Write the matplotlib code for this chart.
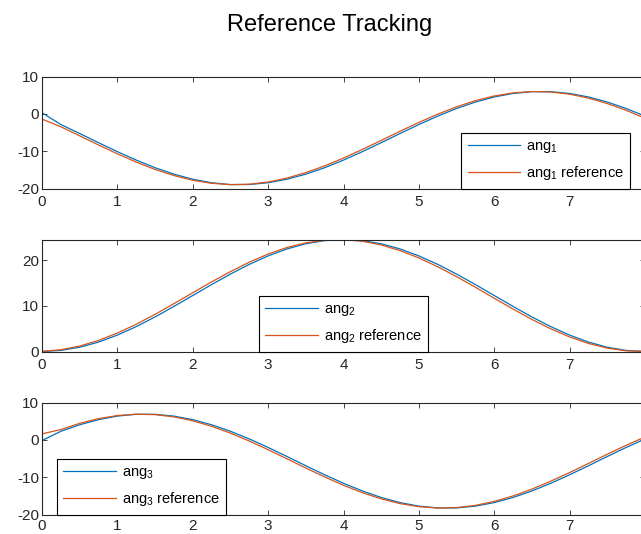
import matplotlib
matplotlib.use("Agg")
import matplotlib.pyplot as plt

plt.rcParams["font.family"] = ["Liberation Sans", "DejaVu Sans"]
plt.rcParams["mathtext.default"] = "regular"
plt.rcParams["axes.unicode_minus"] = False

t = [0.0, 0.25, 0.5, 0.75, 1.0, 1.25, 1.5, 1.75, 2.0, 2.25, 2.5, 2.75, 3.0,
     3.25, 3.5, 3.75, 4.0, 4.25, 4.5, 4.75, 5.0, 5.25, 5.5, 5.75, 6.0,
     6.25, 6.5, 6.75, 7.0, 7.25, 7.5, 7.75, 8.0]

ang1 = [0.3, -2.87, -5.27, -7.73, -10.13, -12.39, -14.43, -16.16, -17.52,
        -18.46, -18.94, -18.94, -18.46, -17.52, -16.16, -14.43, -12.39,
        -10.13, -7.73, -5.27, -2.87, -0.61, 1.43, 3.16, 4.52, 5.46, 5.94,
        5.94, 5.46, 4.52, 3.16, 1.43, -0.61]
ang1_ref = [-1.4, -3.47, -5.89, -8.34, -10.71, -12.92, -14.89, -16.53, -17.79,
            -18.61, -18.97, -18.85, -18.26, -17.21, -15.75, -13.94, -11.84,
            -9.54, -7.12, -4.67, -2.3, -0.09, 1.89, 3.53, 4.79, 5.61, 5.97,
            5.85, 5.26, 4.21, 2.75, 0.94, -1.17]

ang2 = [0.0, 0.24, 0.93, 2.06, 3.59, 5.44, 7.56, 9.86, 12.25, 14.64, 16.94,
        19.06, 20.91, 22.44, 23.57, 24.26, 24.5, 24.26, 23.57, 22.44, 20.91,
        19.06, 16.94, 14.64, 12.25, 9.86, 7.56, 5.44, 3.59, 2.06, 0.93, 0.24,
        0.0]
ang2_ref = [0.03, 0.39, 1.19, 2.42, 4.04, 5.96, 8.13, 10.46, 12.85, 15.23,
            17.48, 19.54, 21.32, 22.75, 23.77, 24.35, 24.47, 24.12, 23.31,
            22.08, 20.47, 18.54, 16.38, 14.05, 11.65, 9.28, 7.02, 4.96, 3.19,
            1.76, 0.73, 0.15, 0.03]

ang3 = [-0.2, 2.29, 4.04, 5.41, 6.36, 6.84, 6.84, 6.36, 5.41, 4.04, 2.29,
        0.24, -2.04, -4.46, -6.94, -9.36, -11.64, -13.69, -15.44, -16.81,
        -17.76, -18.24, -18.24, -17.76, -16.81, -15.44, -13.69, -11.64,
        -9.36, -6.94, -4.46, -2.04, 0.24]
ang3_ref = [1.6, 2.75, 4.41, 5.68, 6.51, 6.87, 6.75, 6.15, 5.1, 3.63, 1.8,
            -0.32, -2.64, -5.08, -7.55, -9.94, -12.17, -14.15, -15.81, -17.08,
            -17.91, -18.27, -18.15, -17.55, -16.5, -15.03, -13.2, -11.08,
            -8.76, -6.32, -3.85, -1.46, 0.77]

x_ticks = [0, 1, 2, 3, 4, 5, 6, 7]
y_ticks = [[-20, -10, 0, 10], [0, 10, 20], [-20, -10, 0, 10]]
y_lims = [(-20, 10), (0, 24.5), (-20, 10)]
labels = ["ang$_1$", "ang$_2$", "ang$_3$"]

BLUE = "#0072BD"
ORANGE = "#D95319"
DARK = "#262626"

fig = plt.figure(figsize=(6.41, 5.34), dpi=100)
W, H = 641, 534

# axes boxes in pixels (top edge), all share left/right
ax_tops = [76.5, 239.5, 402.5]
ax_h = 112
ax_left, ax_right = 42, 645

# legend placement per panel: loc and anchor in axes coords
leg_loc = ["lower right", "lower center", "lower left"]
leg_anchor = [(0.975, 0.0), (0.5, 0.0), (0.025, 0.0)]

measured = [ang1, ang2, ang3]
refs = [ang1_ref, ang2_ref, ang3_ref]

for i in range(3):
    bottom = (H - ax_tops[i] - ax_h) / H
    ax = fig.add_axes([ax_left / W, bottom, (ax_right - ax_left) / W, ax_h / H])
    ax.plot(t, measured[i], color=BLUE, lw=0.9, label=labels[i])
    ax.plot(t, refs[i], color=ORANGE, lw=0.9, label=labels[i] + " reference")
    ax.set_xlim(0, 8)
    ax.set_ylim(*y_lims[i])
    ax.set_xticks(x_ticks)
    ax.set_yticks(y_ticks[i])
    ax.tick_params(direction="in", top=True, right=True, length=3.5,
                   width=0.6, labelsize=11, colors=DARK)
    ax.tick_params(axis="x", pad=3 if i == 2 else 4.5)
    ax.tick_params(axis="y", pad=2)
    for s in ax.spines.values():
        s.set_color(DARK)
        s.set_linewidth(0.8)

    leg = ax.legend(loc=leg_loc[i], bbox_to_anchor=leg_anchor[i],
                    borderaxespad=0, fancybox=False, edgecolor="black",
                    framealpha=1, fontsize=10.5, handlelength=3.6,
                    handletextpad=0.4, labelspacing=0.65, borderpad=0.42)
    leg.get_frame().set_linewidth(0.8)

fig.text(330 / W, 1 - 25 / H, "Reference Tracking", ha="center", va="center",
         fontsize=17, color="black")

fig.savefig("out.png", dpi=100)
